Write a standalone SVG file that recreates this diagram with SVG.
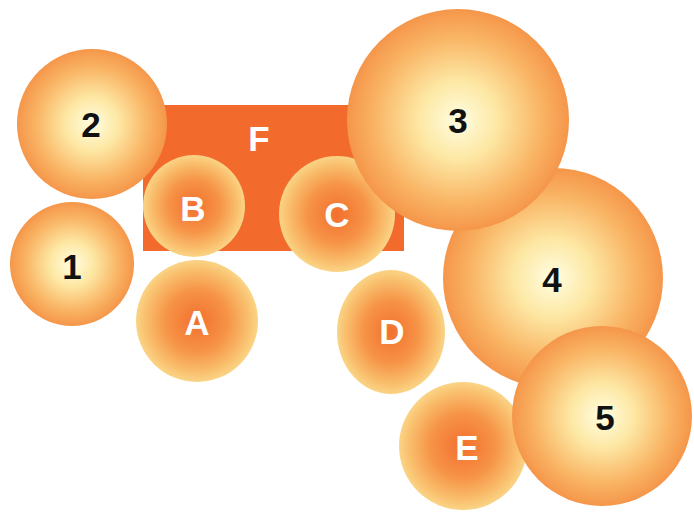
<svg xmlns="http://www.w3.org/2000/svg" width="694" height="516" viewBox="0 0 694 516">
<defs>
<radialGradient id="num" cx="0.5" cy="0.5" r="0.5">
<stop offset="0" stop-color="#fffde2"/>
<stop offset="0.35" stop-color="#fde8a4"/>
<stop offset="0.75" stop-color="#f9b464"/>
<stop offset="1" stop-color="#f5964a"/>
</radialGradient>
<radialGradient id="let" cx="0.5" cy="0.5" r="0.5">
<stop offset="0" stop-color="#f2702f"/>
<stop offset="0.5" stop-color="#f69346"/>
<stop offset="0.85" stop-color="#f9c06e"/>
<stop offset="1" stop-color="#fad486"/>
</radialGradient>
</defs>
<style>
.num{fill:url(#num)}
.let{fill:url(#let)}
.tn{font-family:"Liberation Sans",Arial,sans-serif;font-weight:bold;font-size:35px;fill:#111;text-anchor:middle}
.tl{font-family:"Liberation Sans",Arial,sans-serif;font-weight:bold;font-size:35px;fill:#fff;text-anchor:middle}
</style>
<g id="F"><rect x="143" y="105" width="261" height="146" fill="#f36a2d"/><text class="tl" x="259" y="151">F</text></g>
<g id="n1"><circle class="num" cx="72" cy="264" r="62"/><text class="tn" x="72" y="279">1</text></g>
<g id="n2"><circle class="num" cx="92" cy="124" r="75"/><text class="tn" x="91" y="137">2</text></g>
<g id="B"><circle class="let" cx="194" cy="206" r="51"/><text class="tl" x="193" y="221">B</text></g>
<g id="A"><circle class="let" cx="197" cy="321" r="61"/><text class="tl" x="197" y="335">A</text></g>
<g id="C"><circle class="let" cx="337" cy="214" r="58"/><text class="tl" x="337" y="227">C</text></g>
<g id="D"><ellipse class="let" cx="391" cy="332" rx="54" ry="62"/><text class="tl" x="392" y="344">D</text></g>
<g id="n4"><circle class="num" cx="553" cy="278" r="110"/><text class="tn" x="552" y="292">4</text></g>
<g id="n3"><circle class="num" cx="458" cy="120" r="111"/><text class="tn" x="458" y="133">3</text></g>
<g id="E"><circle class="let" cx="463" cy="446" r="64"/><text class="tl" x="467" y="460">E</text></g>
<g id="n5"><circle class="num" cx="602" cy="416" r="90"/><text class="tn" x="605" y="430">5</text></g>
<g id="connectors"></g>
</svg>
